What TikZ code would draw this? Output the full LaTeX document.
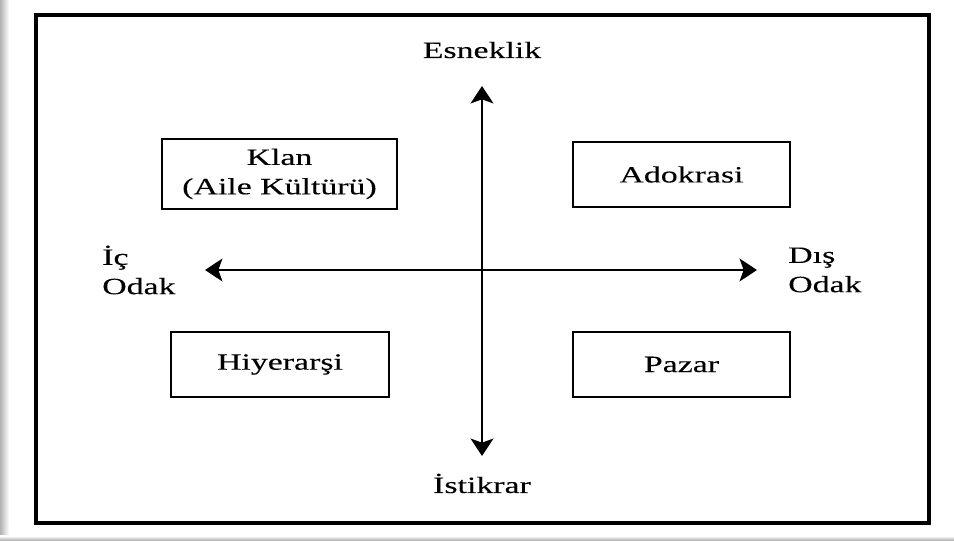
\documentclass[tikz,border=0pt]{standalone}
\usepackage{fontspec}
\setmainfont{Liberation Serif}[FakeStretch=1.45, FakeBold=0.1]
\usetikzlibrary{arrows.meta}
\begin{document}
\begin{tikzpicture}[x=0.75pt,y=-0.75pt,
  every node/.style={font=\fontsize{17.5}{22}\selectfont, inner sep=0pt},
  quadrant/.style={draw, line width=1.9pt, align=center},
  axislabel/.style={align=left, anchor=west},
  axis/.style={line width=2.1pt, {Stealth[length=13pt,width=17pt,inset=3pt]}-{Stealth[length=13pt,width=17pt,inset=3pt]}}]
  % page area with a soft shadow on the left and bottom edges
  \useasboundingbox (0,0) rectangle (954,541);
  \fill[white] (0,0) rectangle (954,541);
  \shade[left color=black!30, right color=white] (0,0) rectangle (9,541);
  \shade[top color=white, bottom color=black!35] (0,536) rectangle (954,541);
  % outer frame
  \draw[line width=2.6pt] (36,15) rectangle (929,523);
  % the four culture types
  \node[quadrant, minimum width=176pt, minimum height=52.5pt] (klan) at (279.5,174) {Klan\\(Aile Kültürü)};
  \node[quadrant, minimum width=163pt, minimum height=49pt] (adokrasi) at (681.5,174.5) {Adokrasi};
  \node[quadrant, minimum width=163.5pt, minimum height=49pt] (hiyerarsi) at (280,364.5) {Hiyerarşi};
  \node[quadrant, minimum width=163pt, minimum height=49pt] (pazar) at (681.5,364.5) {Pazar};
  % axis labels
  \node[anchor=base] (esneklik) at (482,58) {Esneklik};
  \node[anchor=base] (istikrar) at (482,493) {İstikrar};
  \node[axislabel] (ic) at (102,270) {İç\\Odak};
  \node[axislabel] (dis) at (788,270) {Dış\\Odak};
  % axes
  \coordinate (ust) at (482,86);
  \coordinate (alt) at (482,456);
  \coordinate (sol) at (205,270);
  \coordinate (sag) at (757,270);
  \draw[axis] (alt) -- (ust);
  \draw[axis] (sol) -- (sag);
\end{tikzpicture}
\end{document}
